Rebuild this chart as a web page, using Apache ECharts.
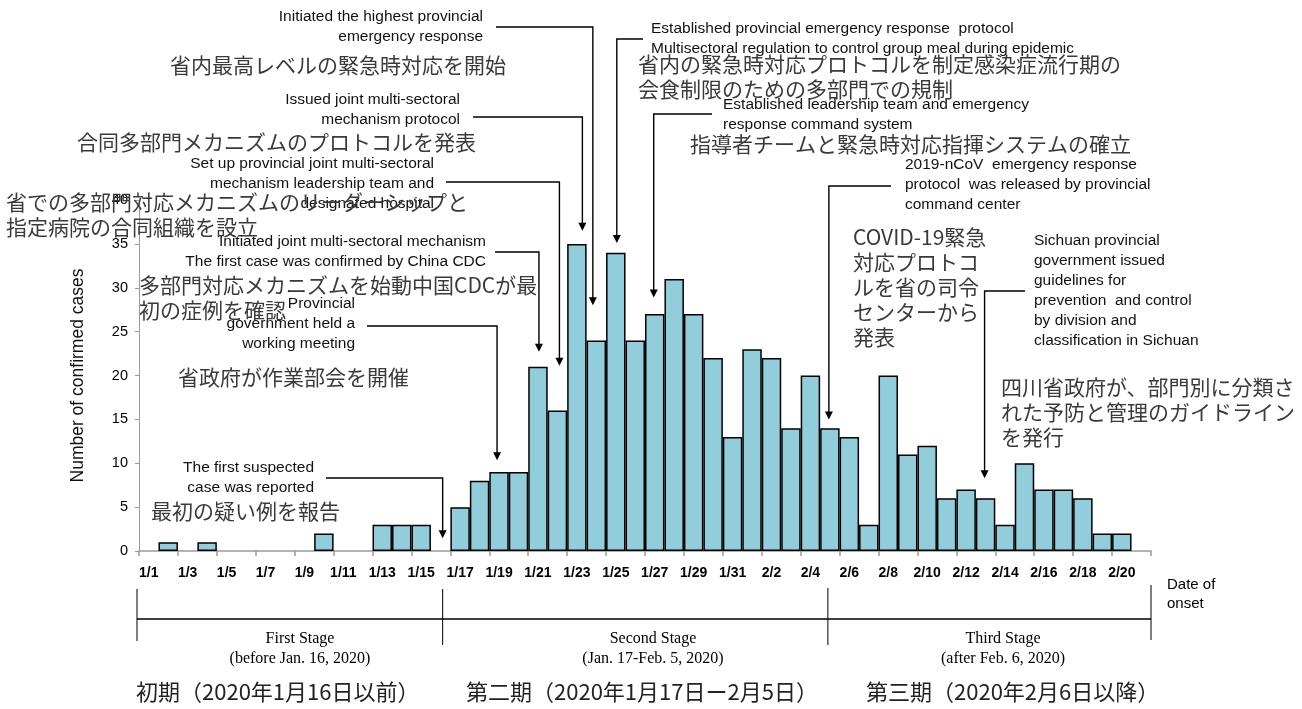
<!DOCTYPE html>
<html><head><meta charset="utf-8">
<script src="https://cdn.jsdelivr.net/npm/echarts@6/dist/echarts.min.js"></script>
<style>html,body{margin:0;padding:0;background:#fff}#c{width:1302px;height:709px}</style>
</head><body><div id="c"></div>
<script>
// ---- data ----
const dates = ['1/1','1/2','1/3','1/4','1/5','1/6','1/7','1/8','1/9','1/10','1/11','1/12','1/13','1/14','1/15','1/16',
  '1/17','1/18','1/19','1/20','1/21','1/22','1/23','1/24','1/25','1/26','1/27','1/28','1/29','1/30','1/31',
  '2/1','2/2','2/3','2/4','2/5','2/6','2/7','2/8','2/9','2/10','2/11','2/12','2/13','2/14','2/15','2/16','2/17','2/18','2/19','2/20','2/21'];
const cases = [null,1,null,1,null,null,null,null,null,2,null,null,3,3,3,null,
  5,8,9,9,21,16,35,24,34,24,27,31,27,22,13,
  23,22,14,20,14,13,3,20,11,12,6,7,6,3,10,7,7,6,2,2,null];
const yMin = 0, yMax = 40, yStep = 5;
const yName = 'Number of confirmed cases';
const xName = ['Date of', 'onset'];

const stagesEn = [['First Stage','(before Jan. 16, 2020)'],['Second Stage','(Jan. 17-Feb. 5, 2020)'],['Third Stage','(after Feb. 6, 2020)']];
const stagesJa = ['初期（2020年1月16日以前）','第二期（2020年1月17日ー2月5日）','第三期（2020年2月6日以降）'];

// annotation texts and the day each arrow points at (tip = value level of arrow tip)
const annEn = [
  ['Initiated the highest provincial','emergency response'],
  ['Issued joint multi-sectoral','mechanism protocol'],
  ['Set up provincial joint multi-sectoral','mechanism leadership team and','designated hospital'],
  ['Initiated joint multi-sectoral mechanism','The first case was confirmed by China CDC'],
  ['Provincial','government held a','working meeting'],
  ['The first suspected','case was reported'],
  ['Established provincial emergency response  protocol','Multisectoral regulation to control group meal during epidemic'],
  ['Established leadership team and emergency','response command system'],
  ['2019-nCoV  emergency response','protocol  was released by provincial','command center'],
  ['Sichuan provincial','government issued','guidelines for','prevention  and control','by division and','classification in Sichuan']
];
const annJa = [
  ['省内最高レベルの緊急時対応を開始'],
  ['合同多部門メカニズムのプロトコルを発表'],
  ['省での多部門対応メカニズムのリーダーシップと','指定病院の合同組織を設立'],
  ['多部門対応メカニズムを始動中国CDCが最','初の症例を確認'],
  ['省政府が作業部会を開催'],
  ['最初の疑い例を報告'],
  ['省内の緊急時対応プロトコルを制定感染症流行期の','会食制限のための多部門での規制'],
  ['指導者チームと緊急時対応指揮システムの確立'],
  ['COVID-19緊急','対応プロトコ','ルを省の司令','センターから','発表'],
  ['四川省政府が、部門別に分類さ','れた予防と管理のガイドライン','を発行']
];
const annTarget = ['1/24','1/23','1/22','1/21','1/19','1/16','1/25','1/27','2/5','2/13'];
const annTip = [28.0, 36.5, 21.1, 22.7, 10.35, 1.45, 35.1, 28.9, 15.0, 8.3];

// ---- layout (pixels) ----
const annLayout = [
  {enX:483, enY:17, enAlign:'right', jaX:170, jaY:65, from:[496,27], dx:-3.5},
  {enX:460, enY:100, enAlign:'right', jaX:77, jaY:142, from:[473,117], dx:5.5},
  {enX:434, enY:164, enAlign:'right', jaX:6, jaY:202, from:[446,182], dx:2},
  {enX:486, enY:242, enAlign:'right', jaX:139, jaY:285, from:[495,252], dx:1},
  {enX:355, enY:304, enAlign:'right', jaX:178, jaY:377, from:[367,326], dx:-2},
  {enX:314, enY:468, enAlign:'right', jaX:151, jaY:511, from:[326,478], dx:2},
  {enX:651, enY:29, enAlign:'left', jaX:638, jaY:64, from:[643,39], dx:1},
  {enX:723, enY:105, enAlign:'left', jaX:690, jaY:144, from:[712,114], dx:-1},
  {enX:905, enY:165, enAlign:'left', jaX:853, jaY:237, from:[891,186], dx:-1},
  {enX:1034, enY:241, enAlign:'left', jaX:1001, jaY:387, from:[1025,291], dx:-1}
];
const enLine = 20, jaLine = 25;
const FEN = '"Liberation Sans", Arial, sans-serif';
const FJA = '"Noto Sans CJK JP", sans-serif';
const FSERIF = '"Liberation Serif", "Times New Roman", serif';

const chart = echarts.init(document.getElementById('c'), null, {renderer:'canvas'});
chart.setOption({
  animation: false,
  backgroundColor: '#fff',
  grid: {left:139, right:151, top:200, bottom:158, containLabel:false, outerBoundsMode:'none'},
  xAxis: {
    type:'category', data: dates, boundaryGap: true,
    axisLine: {lineStyle:{color:'#9a9a9a', width:1.5}},
    axisTick: {show:true, interval:1, length:5, lineStyle:{color:'#9a9a9a', width:1.5}},
    axisLabel: {interval:1, color:'#000', fontWeight:'bold', fontSize:14, fontFamily:FEN, margin:15}
  },
  yAxis: {
    type:'value', min:yMin, max:yMax, interval:yStep,
    name: yName, nameLocation:'middle', nameGap:52, nameRotate:90,
    nameTextStyle:{fontSize:17.5, color:'#111', fontFamily:FEN},
    axisLine:{show:true, lineStyle:{color:'#9a9a9a', width:1}},
    axisTick:{show:true, length:4, lineStyle:{color:'#9a9a9a'}},
    splitLine:{show:false},
    axisLabel:{color:'#000', fontSize:14.5, fontFamily:FEN, margin:11}
  },
  series: [{
    type:'bar', data: cases, barCategoryGap:'0%',
    itemStyle:{color:'#92CDDC', borderColor:'#000', borderWidth:1.5}
  }]
});

function P(cat, val){ return chart.convertToPixel({gridIndex:0}, [cat, val]); }
const g = [];
function txt(s, x, y, font, align, fill){
  g.push({type:'text', z:100, style:{text:s, x:x, y:y, font:font, textAlign:align||'left', textVerticalAlign:'middle', fill:fill||'#000'}});
}
function line(pts, w){
  g.push({type:'polyline', z:99, shape:{points:pts}, style:{stroke:'#000', lineWidth:w||1.3, fill:null}});
}
annLayout.forEach((L, i) => {
  const x = P(annTarget[i], 0)[0] + L.dx;
  const tipY = P(annTarget[i], annTip[i])[1];
  line([L.from, [x, L.from[1]], [x, tipY - 7]], 1.4);
  g.push({type:'polygon', z:99, shape:{points:[[x-4, tipY-8],[x+4, tipY-8],[x, tipY]]}, style:{fill:'#000'}});
  annEn[i].forEach((s, k) => txt(s, L.enX, L.enY + k*enLine, '15.5px ' + FEN, L.enAlign, '#111'));
  annJa[i].forEach((s, k) => txt(s, L.jaX, L.jaY + k*jaLine, '21px ' + FJA, 'left', '#3a3a3a'));
});

// stage bracket below the axis
const bw = P(dates[1],0)[0] - P(dates[0],0)[0];
const xL = P(dates[0],0)[0] - bw/2 - 2;
const xR = P(dates[dates.length-1],0)[0] + bw/2;
const x1 = P('1/16',0)[0] + 2;
const x2 = P('2/5',0)[0] - 2;
[[xL,589,641],[x1,589,645],[x2,588,645],[xR,585,640]].forEach(v => line([[v[0],v[1]],[v[0],v[2]]], 1));
line([[xL,619],[xR,619]], 1.6);
const stageCx = [300, 653, 1003];
stagesEn.forEach((s, i) => {
  txt(s[0], stageCx[i], 639, '16px ' + FSERIF, 'center', '#000');
  txt(s[1], stageCx[i], 659, '16px ' + FSERIF, 'center', '#000');
});
const stageJaX = [136, 466, 866];
stagesJa.forEach((s, i) => txt(s, stageJaX[i], 692, '22px ' + FJA, 'left', '#222'));
txt(xName[0], 1167, 585, '15px ' + FEN, 'left', '#000');
txt(xName[1], 1167, 604, '15px ' + FEN, 'left', '#000');

chart.setOption({graphic: g});
</script>
</body></html>
